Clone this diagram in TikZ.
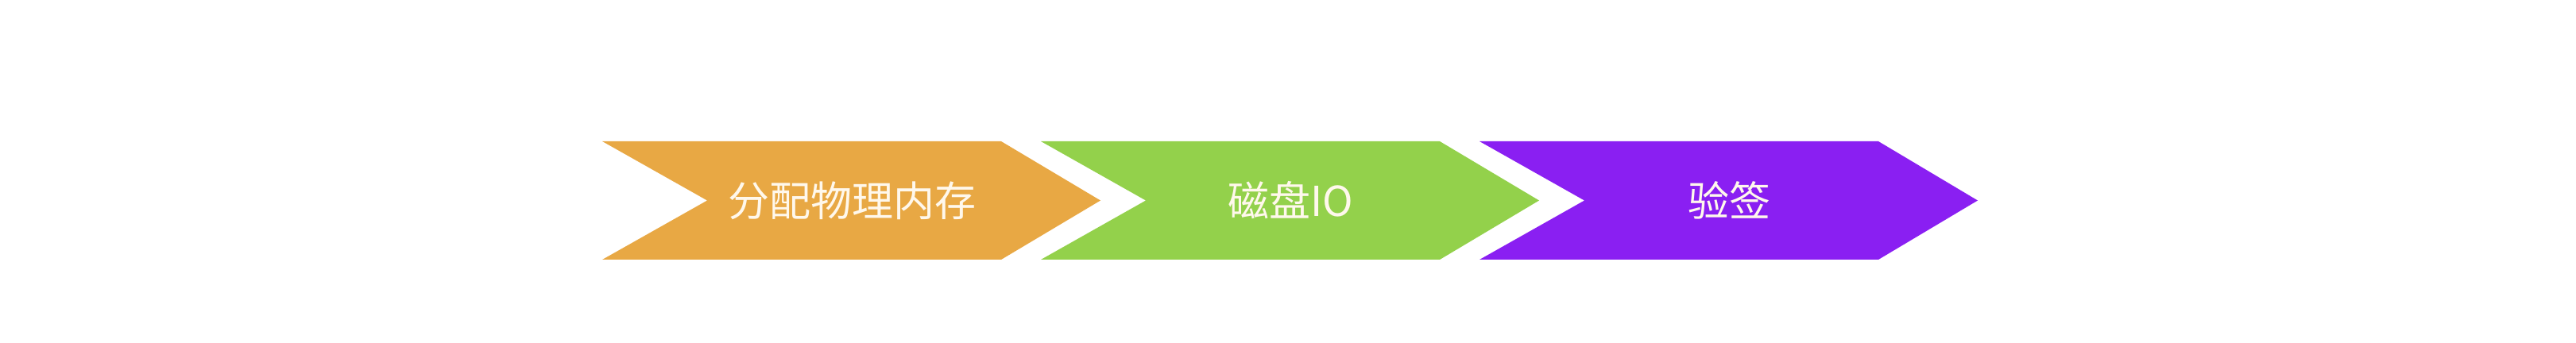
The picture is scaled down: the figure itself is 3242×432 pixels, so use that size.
\documentclass[tikz,border=0pt]{standalone}
\usepackage{fontspec}
\newfontfamily\cjk{Noto Sans CJK SC}
\definecolor{stepOrange}{HTML}{E8A844}
\definecolor{stepGreen}{HTML}{93D14B}
\definecolor{stepPurple}{HTML}{8A1FF2}
\definecolor{stepText}{HTML}{FFF8EC}
\begin{document}
\begin{tikzpicture}[x=0.5pt,y=-0.5pt,line join=miter,every node/.style={inner sep=1pt}]
  \useasboundingbox (0,0) rectangle (3242,432);
  \foreach \i/\col/\txt in {0/stepOrange/分配物理内存,1/stepGreen/磁盘IO,2/stepPurple/验签} {
    \pgfmathsetmacro{\x}{758+\i*552}
    \fill[\col] (\x,178) -- (\x+502,178) -- (\x+627,252.5) -- (\x+502,327)
      -- (\x,327) -- (\x+132,252.5) -- cycle;
    \node[text=stepText,font=\cjk\fontsize{26}{30}\selectfont] (step\i) at (\x+314,252.5) {\txt};
  }
\end{tikzpicture}
\end{document}
